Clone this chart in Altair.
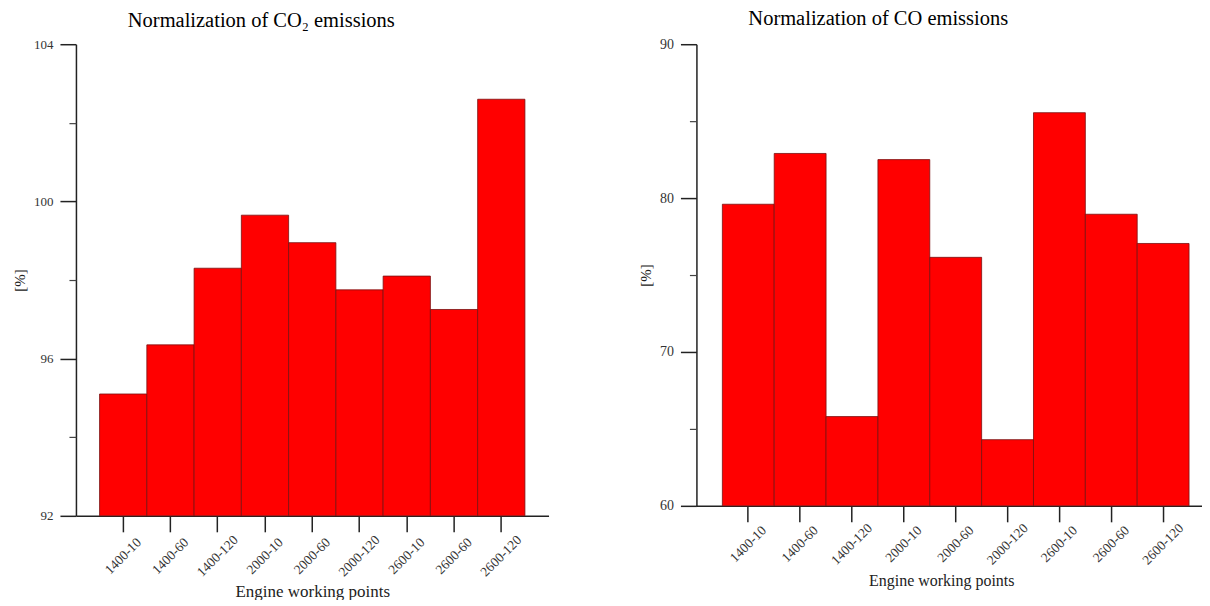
import altair as alt
import pandas as pd

points = ["1400-10", "1400-60", "1400-120", "2000-10", "2000-60",
          "2000-120", "2600-10", "2600-60", "2600-120"]
co2_values = [95.1, 96.35, 98.3, 99.65, 98.95, 97.75, 98.1, 97.25, 102.6]
co_values = [79.6, 82.9, 65.8, 82.5, 76.15, 64.3, 85.55, 78.95, 77.05]

co2_major = [92, 96, 100, 104]
co2_minor = [94, 98, 102]
co_major = [60, 70, 80, 90]
co_minor = [65, 75, 85]

FONT = "Liberation Serif, DejaVu Serif"

df_co2 = pd.DataFrame({"point": points, "value": co2_values})
df_co = pd.DataFrame({"point": points, "value": co_values})


def panel(df, major, minor, title, dx, title_offset, width, height,
          x_label_pad, x_title_pad, x_title_size, y_label_size,
          pad_outer, align, x_title_x=None):
    lo, hi = major[0], major[-1]
    x_kwargs = dict(
        title="Engine working points",
        titleFont=FONT, titleFontSize=x_title_size, titleFontWeight="normal",
        titleColor="#222", titlePadding=x_title_pad,
        labelFont=FONT, labelFontSize=13.5, labelColor="#333",
        labelAngle=-45, labelAlign="center", labelBaseline="middle",
        labelPadding=x_label_pad,
        domainColor="#222", domainWidth=1.5,
        tickColor="#222", tickWidth=1.5, tickSize=16,
        grid=False,
    )
    if x_title_x is not None:
        x_kwargs["titleX"] = x_title_x
    x_axis = alt.Axis(**x_kwargs)
    x_enc = alt.X("point:N", sort=points,
                  scale=alt.Scale(paddingInner=0, paddingOuter=pad_outer,
                                  align=align),
                  axis=x_axis)
    y_scale = alt.Scale(domain=[lo, hi], zero=False, nice=False)
    y_major = alt.Axis(
        title="[%]", orient="left",
        titleFont=FONT, titleFontSize=15, titleFontWeight="normal",
        titleColor="#222", titlePadding=6,
        values=major,
        labelFont=FONT, labelFontSize=y_label_size, labelColor="#333",
        labelPadding=7,
        domainColor="#222", domainWidth=1.5,
        tickColor="#222", tickWidth=1.5, tickSize=16,
        grid=False,
    )
    y_minor = alt.Axis(
        title=None, orient="left", values=minor, labels=False, domain=False,
        tickColor="#444", tickWidth=1.2, tickSize=7, grid=False,
    )
    bars = alt.Chart(df).mark_bar(
        color="#ff0000", stroke="#7a1010", strokeWidth=0.8
    ).encode(
        x=x_enc,
        y=alt.Y("value:Q", scale=y_scale, axis=y_major),
        y2=alt.datum(lo),
    )
    minor_layer = alt.Chart(df).mark_point(opacity=0).encode(
        x=x_enc,
        y=alt.Y("value:Q", scale=y_scale, axis=y_minor),
    )
    return alt.layer(bars, minor_layer).resolve_axis(y="independent").properties(
        width=width, height=height,
        title=alt.TitleParams(text=title, font=FONT, fontSize=20.5,
                              fontWeight="normal", color="black",
                              offset=title_offset, dx=dx),
    )


left = panel(df_co2, co2_major, co2_minor, "Normalization of CO₂ emissions",
             -51, 7, 473, 472, 24, 5, 17, 13, 0.5, 0.5)
right = panel(df_co, co_major, co_minor, "Normalization of CO emissions",
              -71, 8, 506, 462, 22, 6, 16, 14, 0.375, 0.667, x_title_x=245)

chart = alt.hconcat(left, right, spacing=90).properties(
    padding={"left": 4, "top": 0, "right": 0, "bottom": 0}
).configure_view(stroke=None)

chart.save("out.html", embed_options={"renderer": "svg", "actions": False})
